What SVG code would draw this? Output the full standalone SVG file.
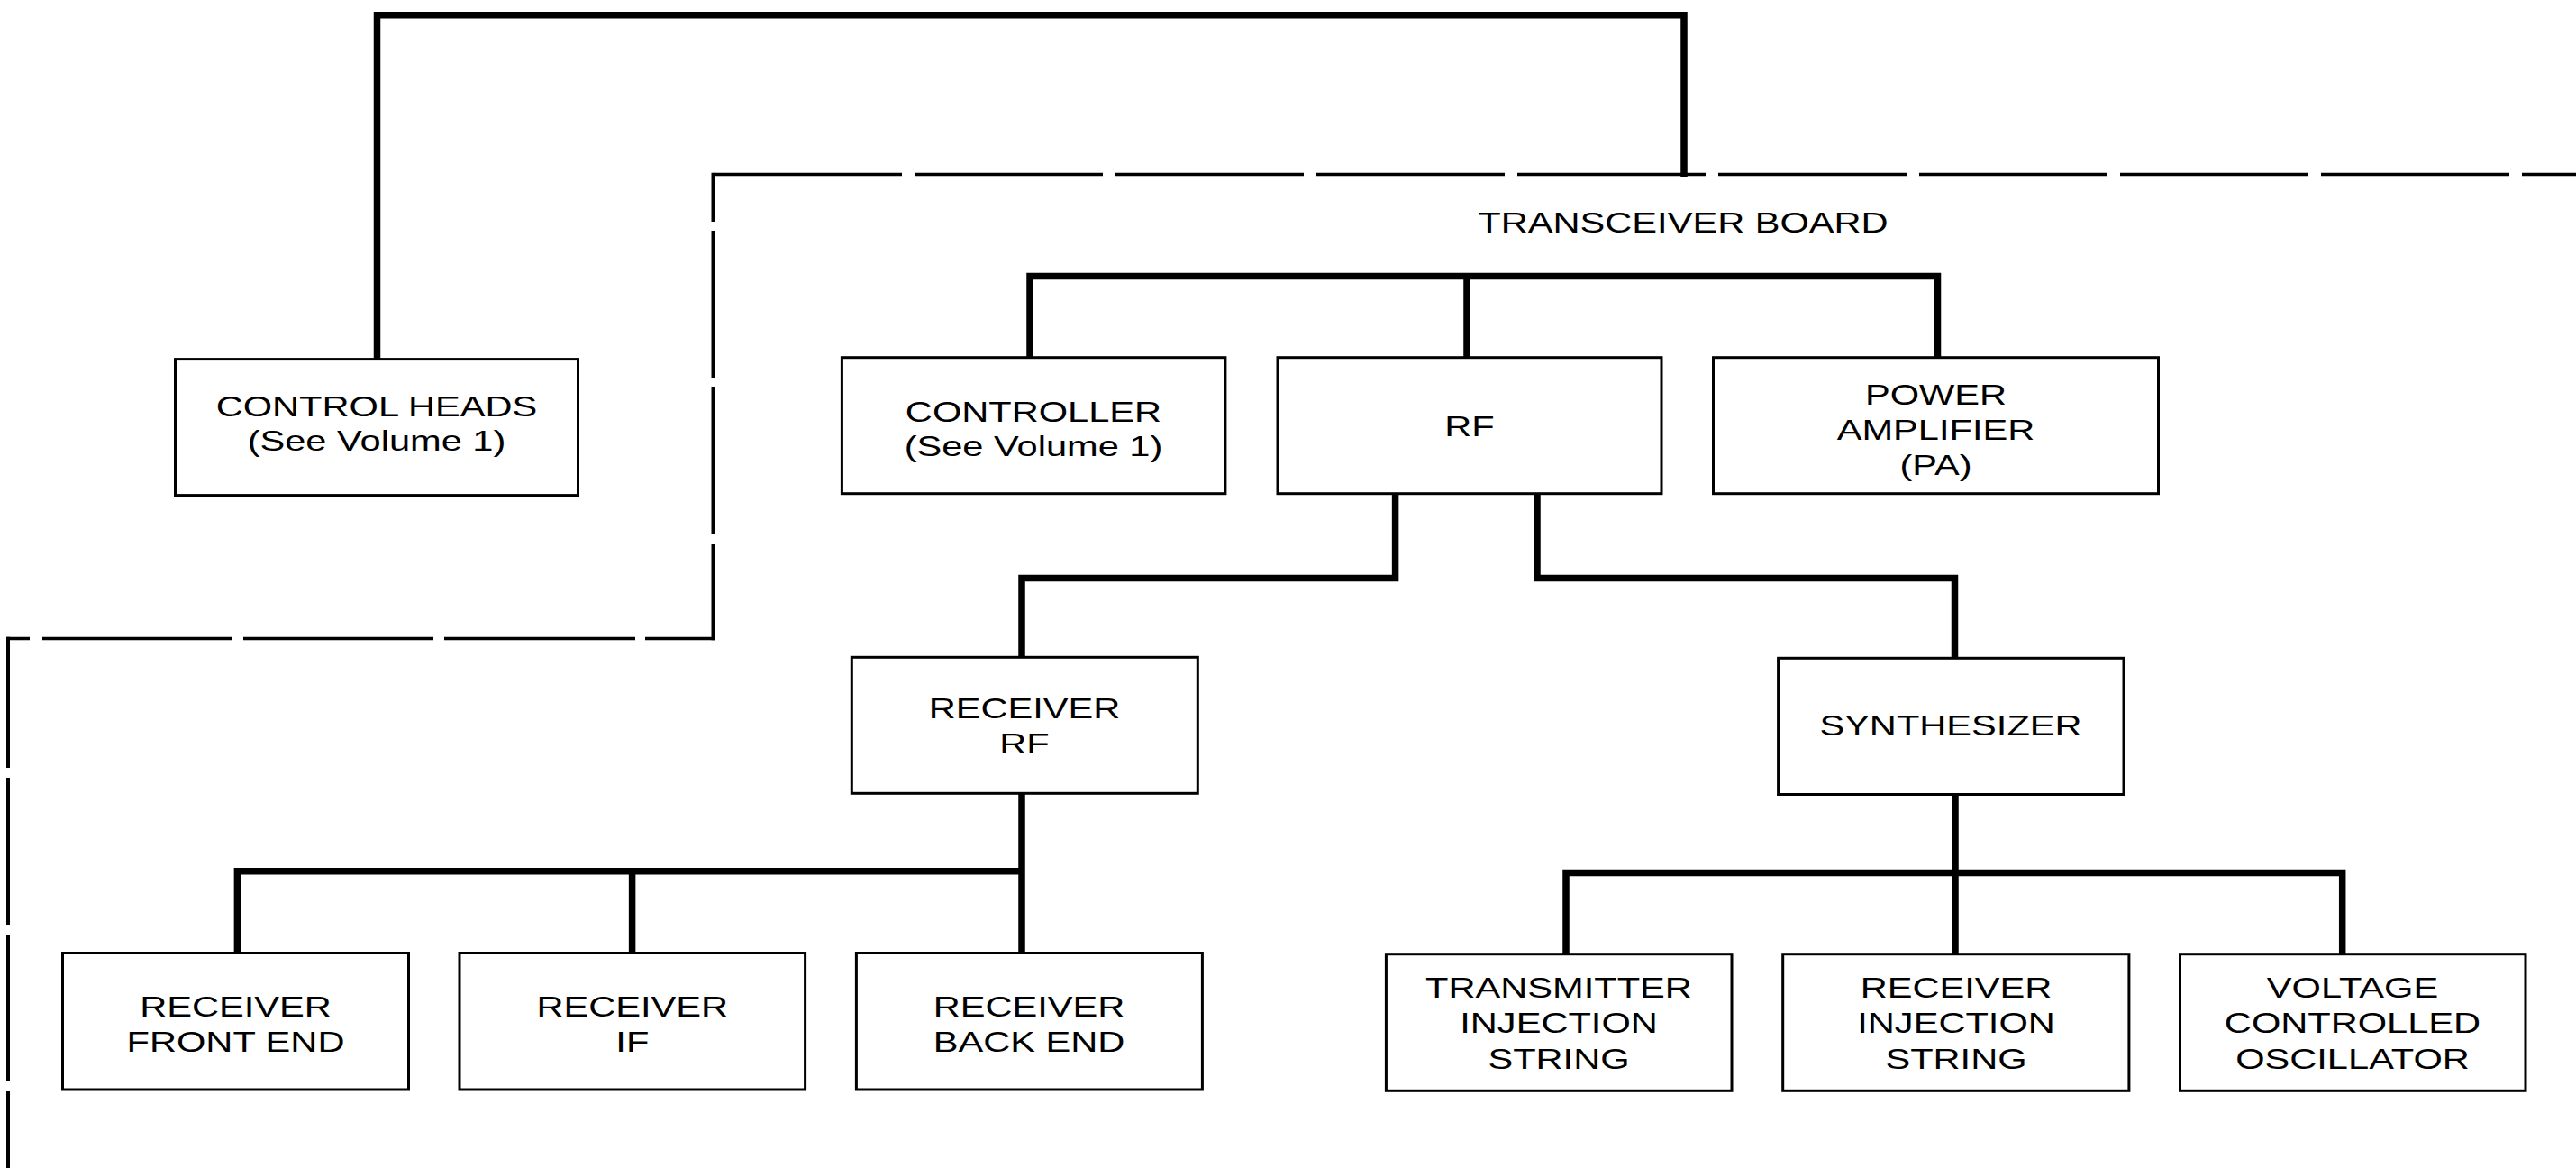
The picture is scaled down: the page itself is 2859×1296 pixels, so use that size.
<svg xmlns="http://www.w3.org/2000/svg" width="2859" height="1296" viewBox="0 0 2859 1296">
<style>
.box{fill:#fff;stroke:#000;stroke-width:3}
.t{font-family:"Liberation Sans",Arial,sans-serif;font-size:32px;fill:#000;text-anchor:middle}
.c{fill:none;stroke:#000;stroke-width:7.5;stroke-linejoin:miter}
.dh{fill:none;stroke:#000;stroke-width:3.3}
.dv{fill:none;stroke:#000;stroke-width:4}
</style>
<rect width="2859" height="1296" fill="#fff"/>
<g id="connectors">
<path class="c" d="M418.5,398.6 V16.7 H1869 V196"/>
<path class="c" d="M1143,396.7 V306.5 H2150.5 V396.7 M1628,306.5 V396.7"/>
<path class="c" d="M1548.6,547.8 V641.5 H1134 V729.3"/>
<path class="c" d="M1706,547.8 V641.5 H2169.5 V730.3"/>
<path class="c" d="M1134,880.3 V1057.5 M263.4,1057.5 V966.7 H1134 M701.6,966.7 V1057.5"/>
<path class="c" d="M2170,881.5 V1058.7 M1738,1058.7 V968.5 H2599.7 V1058.7"/>
</g>
<g id="board-boundary">
<path class="dv" d="M9,706.8 V1296" stroke-dasharray="145.2 11 163 11 163 11 300"/>
<path class="dh" d="M7,708.5 H793.5" stroke-dasharray="26 14 211 12 211 12 212 11 300"/>
<path class="dv" d="M791.5,191.8 V710.2" stroke-dasharray="54.2 10 163 10 164 11 200"/>
<path class="dh" d="M792,193.5 H2859" stroke-dasharray="209 14"/>
</g>
<g id="transceiver-board-label">
<text class="t" transform="translate(1868,0) scale(1.3,1)" x="0" y="258.5">TRANSCEIVER BOARD</text>
</g>
<g id="control-heads">
<rect class="box" x="194.5" y="398.6" width="447" height="151"/>
<text class="t" transform="translate(418,0) scale(1.3,1)"><tspan x="0" y="462.5">CONTROL HEADS</tspan><tspan x="0" y="500.5">(See Volume 1)</tspan></text>
</g>
<g id="controller">
<rect class="box" x="934.4" y="396.7" width="425.5" height="151"/>
<text class="t" transform="translate(1147,0) scale(1.3,1)"><tspan x="0" y="468.4">CONTROLLER</tspan><tspan x="0" y="506.5">(See Volume 1)</tspan></text>
</g>
<g id="rf">
<rect class="box" x="1418" y="396.7" width="426" height="151"/>
<text class="t" transform="translate(1631,0) scale(1.3,1)" x="0" y="484.5">RF</text>
</g>
<g id="power-amplifier">
<rect class="box" x="1901.5" y="396.7" width="494" height="151"/>
<text class="t" transform="translate(2148.5,0) scale(1.3,1)"><tspan x="0" y="448.6">POWER</tspan><tspan x="0" y="487.7">AMPLIFIER</tspan><tspan x="0" y="526.7">(PA)</tspan></text>
</g>
<g id="receiver-rf">
<rect class="box" x="945.3" y="729.3" width="384" height="151"/>
<text class="t" transform="translate(1137,0) scale(1.3,1)"><tspan x="0" y="796.7">RECEIVER</tspan><tspan x="0" y="835.8">RF</tspan></text>
</g>
<g id="synthesizer">
<rect class="box" x="1973.6" y="730.3" width="383.4" height="151.2"/>
<text class="t" transform="translate(2165,0) scale(1.3,1)" x="0" y="816">SYNTHESIZER</text>
</g>
<g id="receiver-front-end">
<rect class="box" x="69.5" y="1057.5" width="384" height="151.5"/>
<text class="t" transform="translate(261.5,0) scale(1.3,1)"><tspan x="0" y="1128">RECEIVER</tspan><tspan x="0" y="1167">FRONT END</tspan></text>
</g>
<g id="receiver-if">
<rect class="box" x="510" y="1057.5" width="383.6" height="151.5"/>
<text class="t" transform="translate(701.8,0) scale(1.3,1)"><tspan x="0" y="1128">RECEIVER</tspan><tspan x="0" y="1167">IF</tspan></text>
</g>
<g id="receiver-back-end">
<rect class="box" x="950.4" y="1057.5" width="384" height="151.5"/>
<text class="t" transform="translate(1142,0) scale(1.3,1)"><tspan x="0" y="1128">RECEIVER</tspan><tspan x="0" y="1167">BACK END</tspan></text>
</g>
<g id="transmitter-injection-string">
<rect class="box" x="1538.4" y="1058.7" width="383.6" height="151.6"/>
<text class="t" transform="translate(1730,0) scale(1.3,1)"><tspan x="0" y="1107.3">TRANSMITTER</tspan><tspan x="0" y="1146.5">INJECTION</tspan><tspan x="0" y="1185.6">STRING</tspan></text>
</g>
<g id="receiver-injection-string">
<rect class="box" x="1978.7" y="1058.7" width="384.2" height="151.6"/>
<text class="t" transform="translate(2171,0) scale(1.3,1)"><tspan x="0" y="1107.3">RECEIVER</tspan><tspan x="0" y="1146.5">INJECTION</tspan><tspan x="0" y="1185.6">STRING</tspan></text>
</g>
<g id="voltage-controlled-oscillator">
<rect class="box" x="2419.5" y="1058.7" width="383.5" height="151.6"/>
<text class="t" transform="translate(2611,0) scale(1.3,1)"><tspan x="0" y="1107.3">VOLTAGE</tspan><tspan x="0" y="1146.5">CONTROLLED</tspan><tspan x="0" y="1185.6">OSCILLATOR</tspan></text>
</g>
</svg>
